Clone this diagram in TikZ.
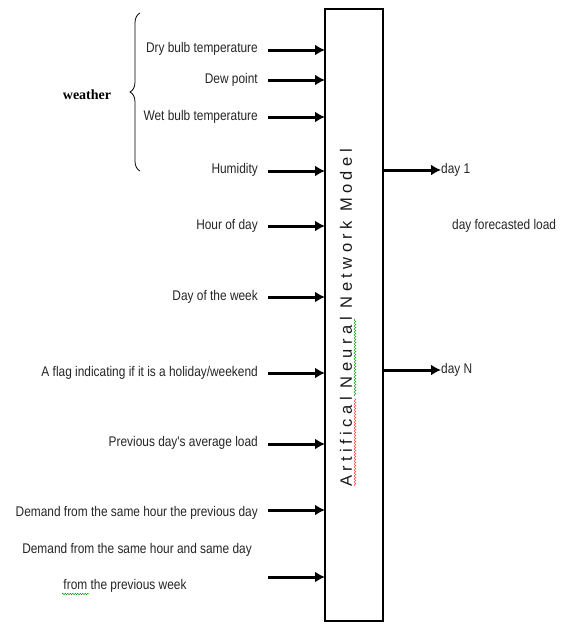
\documentclass[tikz,border=0pt]{standalone}
\usepackage{fontspec}
\setmainfont{Liberation Sans}
\newfontfamily\serifw{Liberation Serif}
\newfontfamily\narrowf[FakeStretch=0.85]{Liberation Sans}
\usetikzlibrary{arrows.meta,decorations.pathreplacing,decorations.pathmorphing}
\begin{document}
\begin{tikzpicture}[x=1pt,y=-1pt,
  lab/.style={anchor=east,inner sep=0pt,text=black!85,font=\narrowf\fontsize{14}{16}\selectfont},
  rlab/.style={anchor=west,inner sep=0pt,text=black!85,font=\narrowf\fontsize{14}{16}\selectfont},
  wavy/.style={decorate,decoration={snake,amplitude=1pt,segment length=3pt}},
  arr/.style={draw=black,line width=3pt,-{Latex[length=10pt,width=11pt]}}]
\useasboundingbox (0,0) rectangle (561,624);
\fill[white] (0,0) rectangle (561,624);
% model box
\node[draw,line width=1.6pt,minimum width=58pt,minimum height=612pt,inner sep=0pt,anchor=north west] (box) at (324,8) {};
\node[rotate=90,inner sep=0pt,text=black!90,font=\fontsize{16.5}{18}\selectfont\addfontfeature{LetterSpace=27}] (title) at (346,318) {Artifical Neural Network Model};
\draw[red!80,wavy] (355,486) -- (355,398);
\draw[green!60!black,wavy] (355,396) -- (355,318);
% inputs
\foreach \n/\y/\t in {a/49/{Dry bulb temperature}, b/80/{Dew point}, c/117/{Wet bulb temperature}, d/170/{Humidity}, e/226/{Hour of day}, f/297/{Day of the week}, g/373/{A flag indicating if it is a holiday/weekend}, h/443/{Previous day's average load}, i/513/{Demand from the same hour the previous day}}{
  \node[lab] (\n) at (258,\y) {\t};
}
\foreach \n/\y in {a/50, b/80, c/117, d/171, e/226, f/297, g/373, h/444, i/510, j/577}{
  \coordinate (s\n) at (268,\y);
  \coordinate (e\n) at (325,\y);
  \draw[arr] (s\n) -- (e\n);
}
\node[lab] (j) at (252,550) {Demand from the same hour and same day};
\node[inner sep=0pt,text=black!85,font=\narrowf\fontsize{14}{16}\selectfont] (k) at (125,586) {from the previous week};
\draw[green!60!black,decorate,decoration={snake,amplitude=0.8pt,segment length=2.5pt}] (62,594) -- (89,594);
% weather brace
\draw[line width=0.8pt,decorate,decoration={brace,amplitude=10pt,aspect=0.5}] (140,171) -- (140,13);
\node[inner sep=0pt,font=\serifw\bfseries\fontsize{14}{16}\selectfont] (w) at (87,95) {weather};
% outputs
\coordinate (o1) at (382,170);
\coordinate (o2) at (382,370);
\node[rlab] (d1) at (441,170) {day 1};
\node[rlab] (dn) at (441,370) {day N};
\node[rlab] (fl) at (452,226) {day forecasted load};
\draw[arr] (o1) -- (d1.west);
\draw[arr] (o2) -- (dn.west);
\end{tikzpicture}
\end{document}
